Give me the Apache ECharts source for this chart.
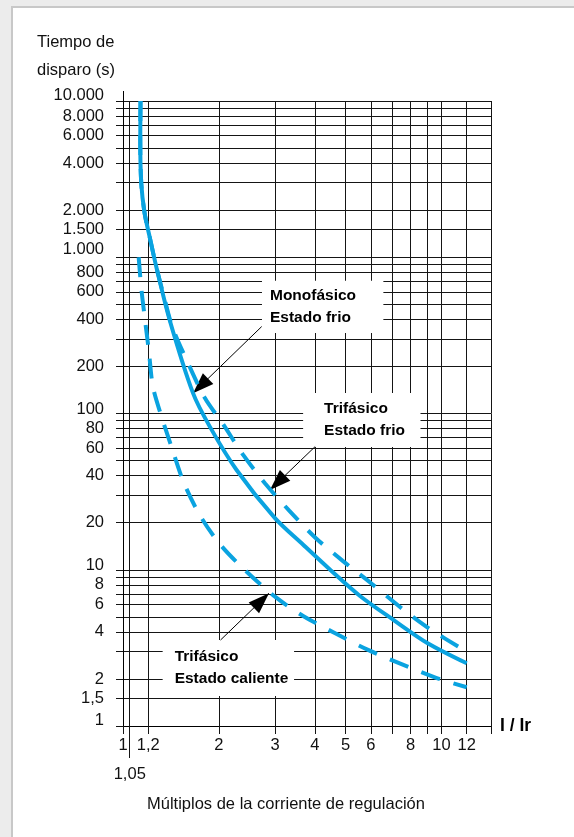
<!DOCTYPE html>
<html>
<head>
<meta charset="utf-8">
<script src="https://cdn.jsdelivr.net/npm/echarts@6/dist/echarts.min.js"></script>
<style>
  html, body { margin: 0; padding: 0; width: 574px; height: 837px; overflow: hidden; background: #ececec; }
  #panel { position: absolute; left: 11px; top: 6px; width: 620px; height: 900px; background: #fff;
           border: 2px solid #c8c8c8; box-sizing: border-box; }
  #chart { position: absolute; left: 0; top: 0; width: 574px; height: 837px; }
</style>
</head>
<body>
<div id="panel"></div>
<div id="chart"></div>
<script>
// Axis ticks and labels (multiples of Ir on x, trip time in seconds on y)
const xTickValues  = [1, 1.05, 1.2, 2, 3, 4, 5, 6, 7, 8, 9, 10, 12, 14.3];
const xLabelValues = [1, 1.2, 2, 3, 4, 5, 6, 8, 10, 12];
const xLabelTexts  = ['1', '1,2', '2', '3', '4', '5', '6', '8', '10', '12'];

const yTickValues  = [1, 1.5, 2, 3, 4, 5, 6, 7, 8, 9, 10, 20, 30, 40, 50, 60, 70, 80, 90,
                      100, 200, 300, 400, 500, 600, 700, 800, 900,
                      1000, 1500, 2000, 3000, 4000, 5000, 6000, 7000, 8000, 9000, 10000];
const yLabelValues = [1, 1.5, 2, 4, 6, 8, 10, 20, 40, 60, 80, 100, 200, 400, 600, 800,
                      1000, 1500, 2000, 4000, 6000, 8000, 10000];
const yLabelTexts  = ['1', '1,5', '2', '4', '6', '8', '10', '20', '40', '60', '80', '100', '200', '400', '600', '800',
                      '1.000', '1.500', '2.000', '4.000', '6.000', '8.000', '10.000'];

// Tripping curves: [I/Ir, time (s)]
const monofasicoFrio = [
  [1.135, 10000], [1.133, 5650], [1.141, 2980], [1.169, 1915], [1.212, 1355], [1.272, 870],
  [1.401, 397], [1.659, 135], [1.873, 82.4], [2.273, 43.5], [3.0, 21.4], [3.685, 14.4],
  [4.47, 10.0], [5.56, 6.77], [7.08, 4.76], [9.02, 3.4], [12, 2.52]
];
const trifasicoFrio = [
  [1.135, 10000], [1.133, 5650], [1.141, 2980], [1.169, 1915], [1.212, 1355], [1.272, 870],
  [1.335, 592], [1.427, 360], [1.587, 218], [1.806, 126], [2.058, 85.8], [2.384, 54.3],
  [2.79, 35.8], [3.325, 23.9], [4.01, 16.1], [4.896, 11.4], [6.01, 8.2], [7.39, 5.8],
  [9.12, 4.22], [12, 2.99]
];
const trifasicoCaliente = [
  [1.12, 1000], [1.141, 637], [1.169, 417], [1.206, 249], [1.241, 149], [1.313, 99.4],
  [1.427, 59.3], [1.551, 36.2], [1.748, 22.1], [2.025, 14.4], [2.427, 9.85], [3.022, 6.65],
  [3.677, 5.06], [4.636, 3.92], [5.88, 3.07], [7.49, 2.49], [9.57, 2.04], [12, 1.77]
];

const FONT = "'Liberation Sans', Arial, Helvetica, sans-serif";
const BLUE = '#0aa3e0';
const GRID = '#151515';

function textFor(values, texts, v) {
  for (let i = 0; i < values.length; i++) {
    if (Math.abs(values[i] - v) <= 1e-6 * values[i]) return texts[i];
  }
  return '';
}

// decade labels sit a little above their grid line
const decadeLift = { 1: 'u6', 10: 'u4', 100: 'u4', 1000: 'u8', 10000: 'u6' };
const labelText = { fontFamily: FONT, fontSize: 16.5, color: '#111' };

const chart = echarts.init(document.getElementById('chart'), null, { renderer: 'canvas' });

const option = {
  animation: false,
  backgroundColor: 'transparent',
  title: [
    { text: 'Tiempo de\ndisparo (s)', left: 37, top: 28, padding: 0,
      textStyle: { fontFamily: FONT, fontSize: 16.5, fontWeight: 'normal', color: '#111', lineHeight: 28 } },
    { text: 'Múltiplos de la corriente de regulación', left: 147, top: 792, padding: 0,
      textStyle: { fontFamily: FONT, fontSize: 16.5, fontWeight: 'normal', color: '#111', lineHeight: 24 } }
  ],
  grid: { left: 123, right: 83, top: 101, bottom: 111, outerBoundsMode: 'none', containLabel: false },
  xAxis: [
    {
      type: 'log', logBase: 10, min: 1, max: 14.3,
      name: 'I / Ir', nameLocation: 'end', nameGap: 9,
      nameTextStyle: { fontFamily: FONT, fontSize: 17.5, fontWeight: 'bold', color: '#000', padding: [0, 0, 16, 0] },
      axisLine: { show: true, onZero: false, lineStyle: { color: '#000', width: 1 } },
      axisTick: { show: true, customValues: xTickValues, length: 8, lineStyle: { color: GRID, width: 1 } },
      axisLabel: {
        show: true, customValues: xLabelValues, margin: 11,
        fontFamily: FONT, fontSize: 16.5, color: '#111',
        formatter: v => textFor(xLabelValues, xLabelTexts, v)
      },
      splitLine: { show: true, lineStyle: { color: GRID, width: 1 } },
      minorTick: { show: false }, minorSplitLine: { show: false }
    },
    {
      // second row: the 1,05 mark with its long tick
      type: 'log', logBase: 10, min: 1, max: 14.3, position: 'bottom',
      axisLine: { show: false },
      axisTick: { show: true, customValues: [1.05], length: 32, lineStyle: { color: GRID, width: 1 } },
      axisLabel: {
        show: true, customValues: [1.05], margin: 40,
        fontFamily: FONT, fontSize: 16.5, color: '#111',
        formatter: () => '1,05'
      },
      splitLine: { show: false }
    }
  ],
  yAxis: {
    type: 'log', logBase: 10, min: 1, max: 10000,
    axisLine: { show: true, onZero: false, lineStyle: { color: '#000', width: 1 } },
    axisTick: { show: true, customValues: yTickValues, length: 7, lineStyle: { color: GRID, width: 1 } },
    axisLabel: {
      show: true, customValues: yLabelValues, margin: 19,
      fontFamily: FONT, fontSize: 16.5, color: '#111',
      formatter: v => {
        const t = textFor(yLabelValues, yLabelTexts, v);
        let key = 'n';
        for (const d in decadeLift) if (Math.abs(+d - v) <= 1e-6 * v) key = decadeLift[d];
        return '{' + key + '|' + t + '}';
      },
      rich: {
        n:  Object.assign({}, labelText),
        u4: Object.assign({ padding: [0, 0, 8, 0] }, labelText),
        u6: Object.assign({ padding: [0, 0, 12, 0] }, labelText),
        u8: Object.assign({ padding: [0, 0, 16, 0] }, labelText)
      }
    },
    splitLine: { show: true, lineStyle: { color: GRID, width: 1 } },
    minorTick: { show: false }, minorSplitLine: { show: false }
  },
  series: [
    {
      // annotation boxes and pointer arrows
      type: 'line', data: [], xAxisIndex: 0, z: 3, silent: true,
      markArea: {
        silent: true,
        itemStyle: { color: '#fff', borderWidth: 0 },
        label: { show: true, position: 'insideLeft', fontFamily: FONT, fontSize: 15.5, fontWeight: 'bold',
                 color: '#000', lineHeight: 22.5 },
        data: [
          [{ coord: [2.731, 706], label: { formatter: 'Monofásico\nEstado frio', distance: 8 } }, { coord: [6.568, 328] }],
          [{ coord: [3.677, 135.5], label: { formatter: 'Trifásico\nEstado frio', distance: 21 } }, { coord: [8.59, 61.1] }],
          [{ coord: [1.332, 3.553], label: { formatter: 'Trifásico\nEstado caliente', distance: 12 } }, { coord: [3.444, 1.557] }]
        ]
      },
      markLine: {
        silent: true,
        symbol: ['none', 'triangle'],
        symbolSize: [15, 21],
        symbolOffset: [0, [0, 10.5]],
        lineStyle: { color: '#000', width: 1, type: 'solid' },
        itemStyle: { color: '#000' },
        label: { show: false },
        emphasis: { disabled: true },
        data: [
          [{ coord: [2.725, 360] }, { coord: [1.659, 135] }],
          [{ coord: [4.01, 61.4] }, { coord: [2.893, 32.4] }],
          [{ coord: [2.024, 3.55] }, { coord: [2.873, 7.07] }]
        ]
      }
    },
    {
      name: 'Trifásico · Estado frio', type: 'line', xAxisIndex: 0, data: trifasicoFrio,
      symbol: 'none', smooth: 0.3, z: 5,
      lineStyle: { color: BLUE, width: 4, type: [20, 14] }
    },
    {
      name: 'Trifásico · Estado caliente', type: 'line', xAxisIndex: 0, data: trifasicoCaliente,
      symbol: 'none', smooth: 0.3, z: 5,
      lineStyle: { color: BLUE, width: 4, type: [20, 14] }
    },
    {
      name: 'Monofásico · Estado frio', type: 'line', xAxisIndex: 0, data: monofasicoFrio,
      symbol: 'none', smooth: 0.3, z: 6,
      lineStyle: { color: BLUE, width: 4, type: 'solid' }
    }
  ]
};

chart.setOption(option);

// the time axis line runs a few pixels past the 10.000 grid line
const axisTop = chart.convertToPixel({ xAxisIndex: 0, yAxisIndex: 0 }, [1, 10000]);
chart.setOption({
  graphic: [{
    type: 'line', silent: true,
    shape: { x1: Math.round(axisTop[0]) + 0.5, y1: axisTop[1] - 10, x2: Math.round(axisTop[0]) + 0.5, y2: axisTop[1] },
    style: { stroke: '#000', lineWidth: 1 }
  }]
});
</script>
</body>
</html>
